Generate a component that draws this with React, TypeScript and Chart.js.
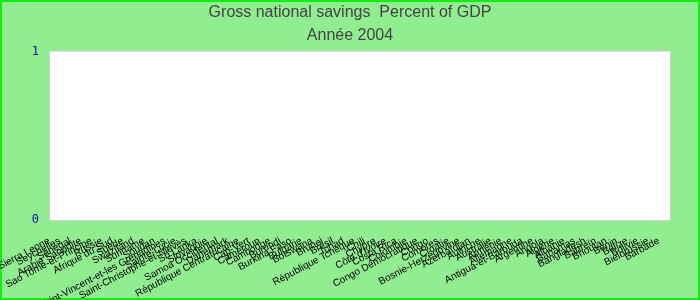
import React, { useEffect, useRef } from "react";
import { Chart, registerables } from "chart.js";

Chart.register(...registerables);

const titleText = "Gross national savings  Percent of GDP";
const subtitleText = "Année 2004";

const countries: string[] = [
  "Sierra Leone",
  "Seychelles",
  "Sénégal",
  "Arabie Saoudite",
  "Sao Tomé-et-Principe",
  "Russie",
  "Afrique du Sud",
  "Suède",
  "Swaziland",
  "Suriname",
  "Soudan",
  "Saint-Vincent-et-les Grenadines",
  "Sainte-Lucie",
  "Saint-Christophe-et-Niévès",
  "Sri Lanka",
  "Slovaquie",
  "Samoa Occidental",
  "Danemark",
  "République Centrafricaine",
  "Cap-Vert",
  "Cameroun",
  "Cambodge",
  "Burundi",
  "Burkina Faso",
  "Bulgarie",
  "Botswana",
  "Brunei",
  "Brésil",
  "Tchad",
  "République Tchèque",
  "Chili",
  "Chypre",
  "Côte d'Ivoire",
  "Costa Rica",
  "Colombie",
  "Congo Démocratique",
  "Congo",
  "Comores",
  "Croatie",
  "Bosnie-Herzégovine",
  "Azerbaïdjan",
  "Autriche",
  "Australie",
  "Arménie",
  "Allemagne",
  "Antigua-et-Barbuda",
  "Argentine",
  "Angola",
  "Algérie",
  "Albanie",
  "Bahamas",
  "Bangladesh",
  "Bahreïn",
  "Bhoutan",
  "Bénin",
  "Belize",
  "Bolivie",
  "Biélorussie",
  "Barbade",
];

// No bars are visible in the reference: values are missing for 2004.
const savings: (number | null)[] = [
  null, null, null, null, null, null, null, null, null, null,
  null, null, null, null, null, null, null, null, null, null,
  null, null, null, null, null, null, null, null, null, null,
  null, null, null, null, null, null, null, null, null, null,
  null, null, null, null, null, null, null, null, null, null,
  null, null, null, null, null, null, null, null, null,
];

const yMin = 0;
const yMax = 1;

const bgPlugin = {
  id: "bgPlugin",
  beforeDraw(chart: any) {
    const { ctx, chartArea: a } = chart;
    ctx.save();
    ctx.fillStyle = "#90ee90";
    ctx.fillRect(0, 0, chart.width, chart.height);
    ctx.fillStyle = "#ffffff";
    ctx.fillRect(a.left, a.top, a.right - a.left, a.bottom - a.top);
    ctx.strokeStyle = "#cfcfcf";
    ctx.lineWidth = 1;
    ctx.strokeRect(a.left - 0.5, a.top - 0.5, a.right - a.left + 1, a.bottom - a.top + 1);
    ctx.strokeStyle = "#11ee11";
    ctx.lineWidth = 2;
    ctx.strokeRect(1, 1, chart.width - 2, chart.height - 2);
    ctx.restore();
  },
};

export default function App() {
  const canvasRef = useRef<HTMLCanvasElement | null>(null);

  useEffect(() => {
    if (!canvasRef.current) return;
    const chart = new Chart(canvasRef.current, {
      type: "bar",
      data: {
        labels: countries,
        datasets: [
          {
            label: "Gross national savings",
            data: savings,
            backgroundColor: "#3366cc",
            borderWidth: 0,
          },
        ],
      },
      options: {
        responsive: false,
        animation: false,
        devicePixelRatio: 1,
        layout: { padding: 0 },
        plugins: {
          legend: { display: false },
          tooltip: { enabled: false },
          title: {
            display: true,
            text: titleText,
            color: "#444444",
            font: { family: "'Liberation Sans', Arial, sans-serif", size: 16, weight: "normal" },
            padding: { top: 3, bottom: 4 },
          },
          subtitle: {
            display: true,
            text: subtitleText,
            color: "#444444",
            font: { family: "'Liberation Sans', Arial, sans-serif", size: 16, weight: "normal" },
            padding: { top: 0, bottom: 6 },
          },
        },
        scales: {
          x: {
            type: "category",
            offset: true,
            grid: { display: false, drawTicks: false },
            border: { display: false },
            ticks: {
              autoSkip: false,
              minRotation: 28,
              maxRotation: 28,
              color: "#000000",
              padding: 15,
              labelOffset: -6,
              font: { family: "'Liberation Sans', Arial, sans-serif", size: 10 },
            },
            afterFit(scale: any) {
              scale.height = 80;
              scale.paddingLeft = 0;
              scale.paddingRight = 0;
            },
          },
          y: {
            min: yMin,
            max: yMax,
            grid: { display: false, drawTicks: false },
            border: { display: false },
            ticks: {
              stepSize: 1,
              color: "#10109c",
              padding: 11,
              font: { family: "'DejaVu Sans Mono', monospace", size: 12 },
            },
            afterFit(scale: any) {
              scale.width = 50;
            },
          },
          yRight: {
            position: "right",
            min: yMin,
            max: yMax,
            grid: { display: false, drawTicks: false },
            border: { display: false },
            ticks: { display: false },
            afterFit(scale: any) {
              scale.width = 30;
            },
          },
        },
      },
      plugins: [bgPlugin],
    });
    return () => chart.destroy();
  }, []);

  return (
    <div style={{ position: "absolute", left: 0, top: 0, width: 700, height: 300 }}>
      <canvas ref={canvasRef} width={700} height={300} style={{ display: "block" }} />
    </div>
  );
}
